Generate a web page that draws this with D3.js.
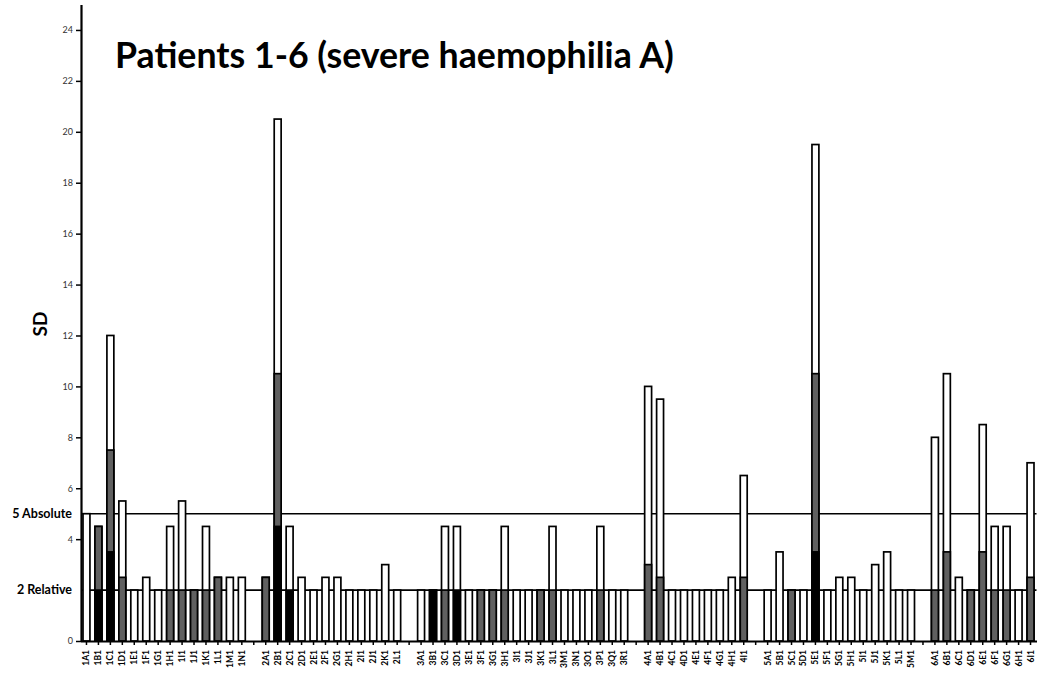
<!DOCTYPE html>
<html><head><meta charset="utf-8">
<script src="https://cdn.jsdelivr.net/npm/d3@7"></script>
<style>body{margin:0;background:#fff} svg{display:block}</style>
</head><body>
<svg id="c" width="1041" height="674"></svg>
<script>
const categories = ["1A1","1B1","1C1","1D1","1E1","1F1","1G1","1H1","1I1","1J1","1K1","1L1","1M1","1N1","gap1",
  "2A1","2B1","2C1","2D1","2E1","2F1","2G1","2H1","2I1","2J1","2K1","2L1","gap2",
  "3A1","3B1","3C1","3D1","3E1","3F1","3G1","3H1","3I1","3J1","3K1","3L1","3M1","3N1","3O1","3P1","3Q1","3R1","gap3",
  "4A1","4B1","4C1","4D1","4E1","4F1","4G1","4H1","4I1","gap4",
  "5A1","5B1","5C1","5D1","5E1","5F1","5G1","5H1","5I1","5J1","5K1","5L1","5M1","gap5",
  "6A1","6B1","6C1","6D1","6E1","6F1","6G1","6H1","6I1"];
const totalValues = [5,4.5,12,5.5,2,2.5,2,4.5,5.5,2,4.5,2.5,2.5,2.5,0,
  2.5,20.5,4.5,2.5,2,2.5,2.5,2,2,2,3,2,0,
  2,2,4.5,4.5,2,2,2,4.5,2,2,2,4.5,2,2,2,4.5,2,2,0,
  10,9.5,2,2,2,2,2,2.5,6.5,0,
  2,3.5,2,2,19.5,2,2.5,2.5,2,3,3.5,2,2,0,
  8,10.5,2.5,2,8.5,4.5,4.5,2,7];
const greyValues = [0,4.5,7.5,2.5,0,0,0,2,2,2,2,2.5,0,0,0,
  2.5,10.5,0,0,0,0,0,0,0,0,0,0,0,
  0,0,2,0,0,2,2,2,0,0,2,2,0,0,0,2,0,0,0,
  3,2.5,0,0,0,0,0,0,2.5,0,
  0,0,2,0,10.5,0,0,0,0,0,0,0,0,0,
  2,3.5,0,2,3.5,2,2,0,2.5];
const blackValues = [0,2,3.5,0,0,0,0,0,0,0,0,0,0,0,0,
  0,4.5,2,0,0,0,0,0,0,0,0,0,0,
  0,2,0,2,0,0,0,0,0,0,0,0,0,0,0,0,0,0,0,
  0,0,0,0,0,0,0,0,0,0,
  0,0,0,0,3.5,0,0,0,0,0,0,0,0,0,
  0,0,0,0,0,0,0,0,0];
const yTicks = [0,4,6,8,10,12,14,16,18,20,22,24];
const refValues = [5,2];
const refLabels = ["5 Absolute","2 Relative"];
const title = "Patients 1-6 (severe haemophilia A)";
const yTitle = "SD";

const rows = categories.map((c,i)=>({c, total: totalValues[i], grey: greyValues[i], black: blackValues[i]}));
const svg = d3.select("#c");
const FONT = "Lato, 'Open Sans', sans-serif";
const mLeft = 81, mRight = 1036.5, mTop = 4.5, mBottom = 641;

const x = d3.scaleBand().domain(categories).range([mLeft - 0.5, mRight]).paddingInner(0.42).paddingOuter(0.21);
const y = d3.scaleLinear().domain([0,25]).range([mBottom, mTop]);

// reference lines (behind bars)
svg.append("g").selectAll("line").data(refValues).join("line")
  .attr("x1", mLeft).attr("x2", mRight).attr("y1", d=>y(d)).attr("y2", d=>y(d))
  .attr("stroke","#000").attr("stroke-width",1.6);

// bars
const layers = [["total","#fff"],["grey","#606060"],["black","#000"]];
layers.forEach(([k,fill])=>{
  svg.append("g").selectAll("rect").data(rows.filter(r=>r[k]>0)).join("rect")
    .attr("x", d=>x(d.c)).attr("width", x.bandwidth())
    .attr("y", d=>y(d[k])).attr("height", d=>y(0)-y(d[k]))
    .attr("fill", fill).attr("stroke","#000").attr("stroke-width",1.7);
});

// x axis
const xa = svg.append("g").attr("transform",`translate(0,${mBottom})`)
  .call(d3.axisBottom(x).tickSize(4).tickSizeOuter(0).tickFormat(d=>d.startsWith("gap")?"":d));
xa.select(".domain").attr("stroke-width",2);
xa.selectAll(".tick line").attr("stroke-width",1.5);
xa.selectAll(".tick text").attr("transform","rotate(-90)").attr("text-anchor","end")
  .attr("x",-9).attr("y",0).attr("dy","0.35em")
  .attr("font-family",FONT).attr("font-weight","bold").attr("font-size",8.5).attr("fill","#000");

// y axis
const ya = svg.append("g").attr("transform",`translate(${mLeft},0)`)
  .call(d3.axisLeft(y).tickValues(yTicks).tickSize(5).tickPadding(3).tickSizeOuter(0));
ya.select(".domain").attr("stroke-width",2.2);
ya.selectAll(".tick line").attr("stroke-width",1.5);
ya.selectAll(".tick text").attr("font-family",FONT).attr("font-size",9).attr("fill","#333");

// reference labels
svg.append("g").selectAll("text").data(refValues).join("text")
  .attr("x",72).attr("y",d=>y(d)).attr("dy","0.35em").attr("text-anchor","end")
  .attr("font-family",FONT).attr("font-weight","bold").attr("font-size",12.5)
  .text((d,i)=>refLabels[i]);

// y title
svg.append("text").attr("transform","translate(47,324) rotate(-90)").attr("text-anchor","middle")
  .attr("font-family",FONT).attr("font-weight","bold").attr("font-size",19).text(yTitle);

// title, sized to span the same width as the original
const t = svg.append("text").attr("x",115).attr("y",68)
  .attr("font-family",FONT).attr("font-weight","bold").attr("font-size",30).text(title);
const w = t.node().getComputedTextLength();
t.attr("font-size", 30 * 559 / w);
</script>
</body></html>
